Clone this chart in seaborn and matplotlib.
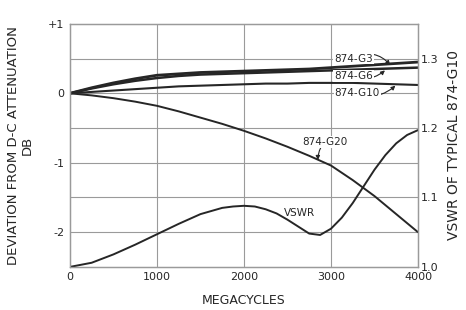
import numpy as np
import pandas as pd
import matplotlib
matplotlib.use("Agg")
import matplotlib.pyplot as plt
import seaborn as sns

# ── 1. Data ───────────────────────────────────────────────────────────────────
freq_mc = [0, 250, 500, 750, 1000, 1250, 1500, 1750, 2000,
           2250, 2500, 2750, 3000, 3250, 3500, 3750, 4000]

dev_g3 = [0, 0.08, 0.15, 0.21, 0.26, 0.28, 0.30, 0.31, 0.32,
          0.33, 0.34, 0.35, 0.37, 0.39, 0.41, 0.43, 0.45]
dev_g6 = [0, 0.07, 0.13, 0.18, 0.22, 0.25, 0.27, 0.28, 0.29,
          0.30, 0.31, 0.32, 0.33, 0.34, 0.35, 0.36, 0.37]
dev_g10 = [0, 0.02, 0.04, 0.06, 0.08, 0.10, 0.11, 0.12, 0.13,
           0.14, 0.14, 0.15, 0.15, 0.15, 0.14, 0.13, 0.12]
dev_g20 = [0, -0.03, -0.07, -0.12, -0.18, -0.26, -0.35, -0.44, -0.54,
           -0.65, -0.77, -0.90, -1.04, -1.25, -1.48, -1.74, -2.00]

# VSWR read more densely around the hump and the dip
freq_vswr = [0, 250, 500, 750, 1000, 1250, 1500, 1750, 1875, 2000,
             2125, 2250, 2375, 2500, 2625, 2750, 2875, 3000, 3125,
             3250, 3375, 3500, 3625, 3750, 3875, 4000]
vswr_g10 = [1.000, 1.006, 1.018, 1.032, 1.047, 1.062, 1.076, 1.085, 1.087, 1.088,
            1.087, 1.083, 1.077, 1.068, 1.058, 1.048, 1.046, 1.055, 1.071,
            1.092, 1.116, 1.140, 1.161, 1.178, 1.190, 1.197]

x_ticks = [0, 1000, 2000, 3000, 4000]
x_ticklabels = ["0", "1000", "2000", "3000", "4000"]
db_ticks = [1, 0, -1, -2]
db_ticklabels = ["+1", "0", "-1", "-2"]
vswr_ticks = [1.0, 1.1, 1.2, 1.3]
vswr_ticklabels = ["1.0", "1.1", "1.2", "1.3"]

df = pd.DataFrame({"freq": freq_mc, "G3": dev_g3, "G6": dev_g6,
                   "G10": dev_g10, "G20": dev_g20})
df_vswr = pd.DataFrame({"freq": freq_vswr, "vswr": vswr_g10})

# ── 2. Style ──────────────────────────────────────────────────────────────────
sns.set_style("white")
plt.rcParams["font.family"] = ["DejaVu Sans"]
INK = "#262626"
GRID = "#9a9a9a"

fig = plt.figure(figsize=(4.66, 3.10), dpi=100)
ax = fig.add_axes([0.150, 0.139, 0.747, 0.784])
ax2 = ax.twinx()

# ── 3. Curves ─────────────────────────────────────────────────────────────────
sns.lineplot(data=df, x="freq", y="G3", ax=ax, color=INK, linewidth=2.0)
sns.lineplot(data=df, x="freq", y="G6", ax=ax, color=INK, linewidth=1.8)
sns.lineplot(data=df, x="freq", y="G10", ax=ax, color=INK, linewidth=1.5)
sns.lineplot(data=df, x="freq", y="G20", ax=ax, color=INK, linewidth=1.4)
sns.lineplot(data=df_vswr, x="freq", y="vswr", ax=ax2, color=INK, linewidth=1.4)

# ── 4. Axes ───────────────────────────────────────────────────────────────────
ax.set_xlim(0, 4000)
ax.set_ylim(-2.5, 1.0)
ax2.set_ylim(1.0, 1.35)

ax.set_xticks(x_ticks)
ax.set_xticklabels(x_ticklabels)
ax.set_yticks(db_ticks)
ax.set_yticklabels(db_ticklabels)
ax2.set_yticks(vswr_ticks)
ax2.set_yticklabels(vswr_ticklabels)

for a in (ax, ax2):
    a.tick_params(length=0, labelsize=8, colors=INK, pad=4)
    for s in a.spines.values():
        s.set_color(GRID)
        s.set_linewidth(0.9)
ax2.tick_params(pad=2)

# grid every 0.5 dB and every 1000 Mc
for yv in np.arange(-2.0, 1.0, 0.5):
    ax.axhline(yv, color=GRID, linewidth=0.8, zorder=0)
for xv in x_ticks[1:-1]:
    ax.axvline(xv, color=GRID, linewidth=0.8, zorder=0)

ax.set_xlabel("MEGACYCLES", fontsize=9, color=INK, labelpad=8)
ax.set_ylabel("DEVIATION FROM D-C ATTENUATION\nDB", fontsize=9.5,
              color=INK, labelpad=10, linespacing=1.1)
ax2.set_ylabel("VSWR OF TYPICAL 874-G10", fontsize=10, color=INK,
               labelpad=6)

# ── 5. Labels with arrows ─────────────────────────────────────────────────────
box = dict(facecolor="white", edgecolor="none", pad=0.6)
arrow = dict(arrowstyle="-|>", color=INK, linewidth=0.8,
             mutation_scale=6, shrinkA=0, shrinkB=0)

ax.annotate("874-G3", xy=(3680, 0.41), xytext=(3260, 0.50),
            fontsize=7.5, color=INK, ha="center", va="center", bbox=box,
            arrowprops=dict(arrow, connectionstyle="arc3,rad=-0.4"))
ax.annotate("874-G6", xy=(3620, 0.33), xytext=(3260, 0.25),
            fontsize=7.5, color=INK, ha="center", va="center", bbox=box,
            arrowprops=dict(arrow, connectionstyle="arc3,rad=0.3"))
ax.annotate("874-G10", xy=(3740, 0.11), xytext=(3300, 0.0),
            fontsize=7.5, color=INK, ha="center", va="center", bbox=box,
            arrowprops=dict(arrow, connectionstyle="arc3,rad=0.3"))
ax.annotate("874-G20", xy=(2850, -0.96), xytext=(2930, -0.70),
            fontsize=7.5, color=INK, ha="center", va="center", bbox=box,
            arrowprops=dict(arrow, connectionstyle="arc3,rad=0.2"))
ax.text(2640, -1.72, "VSWR", fontsize=7.5, color=INK,
        ha="center", va="center")

fig.savefig("out.png", dpi=100, facecolor="white")
